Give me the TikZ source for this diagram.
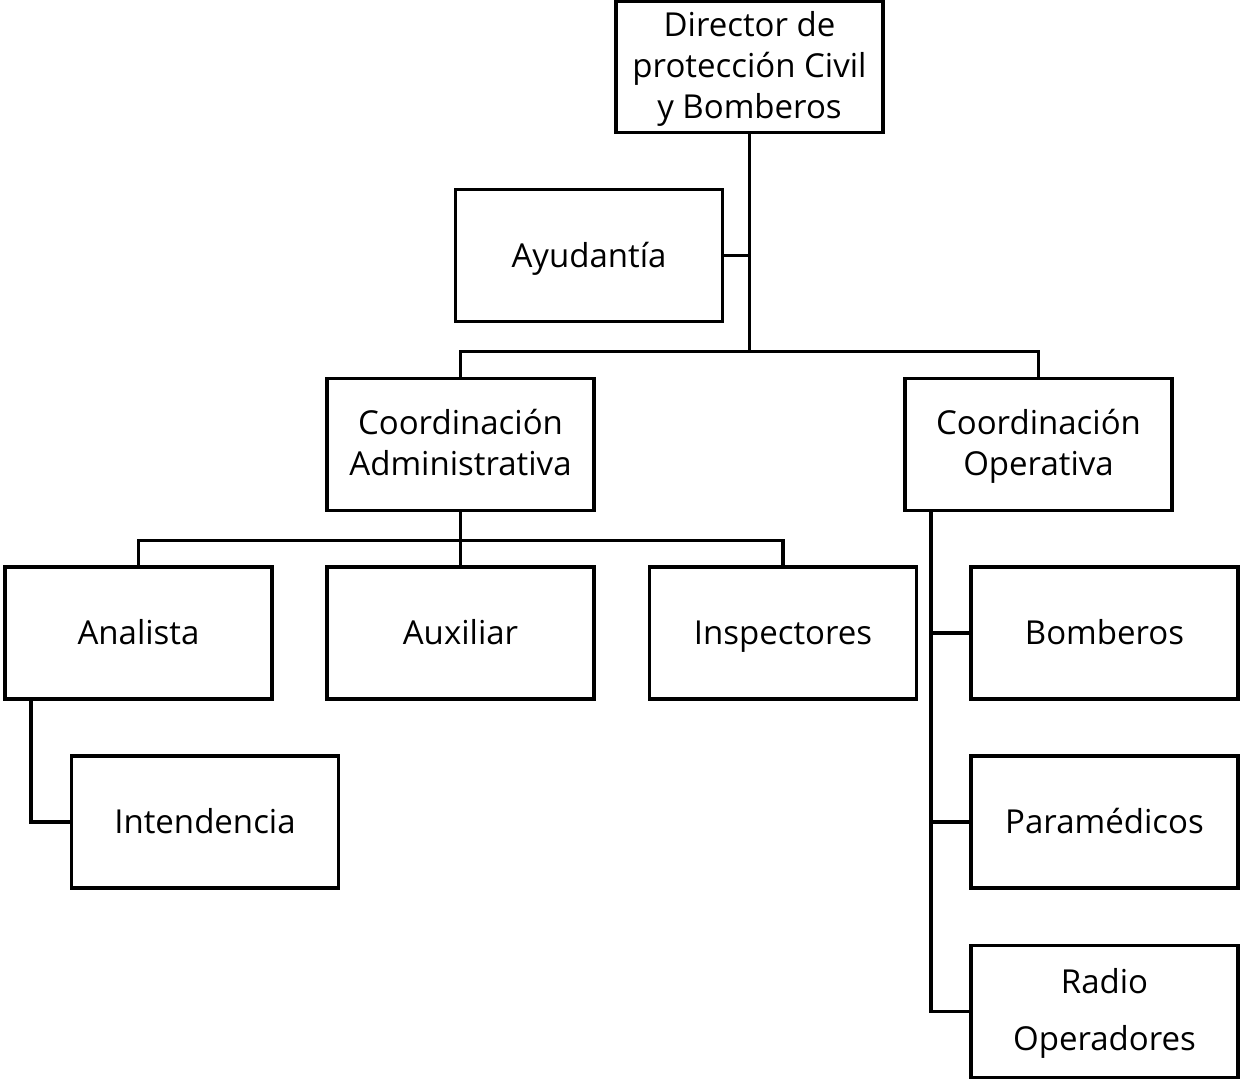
\documentclass[tikz,border=0pt]{standalone}
\usepackage{fontspec}
\setmainfont{Open Sans}
\usepackage{tikz}
\usetikzlibrary{positioning}
\usetikzlibrary{calc}
\newcommand{\boxstrut}{\vrule height 28pt depth 4.4pt width 0pt}
\tikzset{
    org box/.style = {shape=rectangle,draw=black,fill=white,line width=3.8pt,
        minimum width=267pt,minimum height=132pt,inner sep=2pt,align=center,
        font=\fontsize{33}{41}\selectfont,text depth=4.4pt,
        execute at begin node=\boxstrut},
    org line/.style = {line width=3.8pt,line cap=rect},
}

\begin{document}
\begin{tikzpicture}[x=1pt,y=-1pt]
    \useasboundingbox[fill=white] (0,0) rectangle (1240,1081);
    % nivel 1
    \node(dir)[org box,minimum height=131pt] at (749.5,67) {Director de\\protección Civil\\y Bomberos};
    \node(ayud)[org box] at (589,255.5) {Ayudantía};
    % coordinaciones
    \node(cadm)[org box] at (460.5,444.5) {Coordinación\\Administrativa};
    \node(cope)[org box] at (1038.5,444.5) {Coordinación\\Operativa};
    % area administrativa
    \node(anal)[org box] at (138.5,633) {Analista};
    \node(aux)[org box] at (460.5,633) {Auxiliar};
    \node(insp)[org box] at (783,633) {Inspectores};
    \node(intd)[org box] at (205,822) {Intendencia};
    % area operativa
    \node(bomb)[org box] at (1104.5,633) {Bomberos};
    \node(para)[org box] at (1104.5,822) {Paramédicos};
    \node(radio)[org box,font=\fontsize{33}{57}\selectfont] at (1104.5,1011.5) {Radio\\Operadores};

    \draw[org line] (dir.south) -- ($(dir.south)+(0,217)$) coordinate(bus1);
    \draw[org line] (ayud.east) -- (ayud.east -| bus1);
    \draw[org line] (cadm.north) |- (bus1) -| (cope.north);
    \draw[org line] (cadm.south) -- ($(cadm.south)+(0,28)$) coordinate(bus2);
    \draw[org line] (anal.north) |- (bus2) -| (insp.north);
    \draw[org line] (aux.north) -- (bus2);
    \draw[org line] ($(anal.south west)+(28,0)$) |- (intd.west);
    \draw[org line] ($(cope.south west)+(28,0)$) coordinate(op) |- (radio.west);
    \draw[org line] (op |- bomb.west) -- (bomb.west);
    \draw[org line] (op |- para.west) -- (para.west);
\end{tikzpicture}
\end{document}
